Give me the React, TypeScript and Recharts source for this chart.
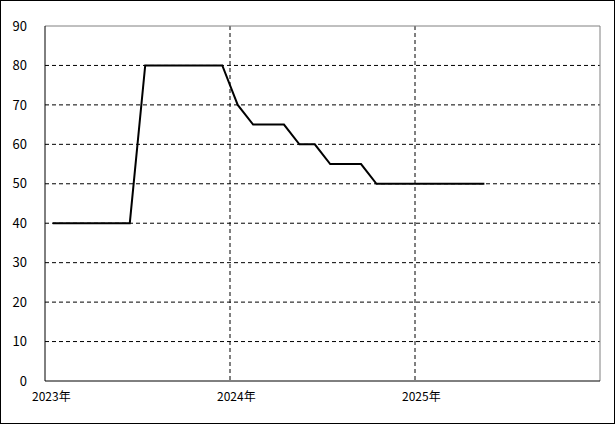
import { LineChart, Line, XAxis, YAxis, CartesianGrid, ReferenceLine } from 'recharts'

// monthly points, Jan 2023 .. May 2025
const months = [
  '2023-01', '2023-02', '2023-03', '2023-04', '2023-05', '2023-06',
  '2023-07', '2023-08', '2023-09', '2023-10', '2023-11', '2023-12',
  '2024-01', '2024-02', '2024-03', '2024-04', '2024-05', '2024-06',
  '2024-07', '2024-08', '2024-09', '2024-10', '2024-11', '2024-12',
  '2025-01', '2025-02', '2025-03', '2025-04', '2025-05',
]
const values = [
  40, 40, 40, 40, 40, 40,
  80, 80, 80, 80, 80, 80,
  70, 65, 65, 65, 60, 60,
  55, 55, 55, 50, 50, 50,
  50, 50, 50, 50, 50,
]
const yearTicks = [0, 12, 24, 36]
const yearLabels = ['2023年', '2024年', '2025年', '']
const yTicks = [0, 10, 20, 30, 40, 50, 60, 70, 80, 90]

const font = '"MS UI Gothic", "Noto Sans CJK JP", "DejaVu Sans", sans-serif'

// x = months since Jan 2023, placed mid-month
const data = months.map((m, i) => {
  const [y, mo] = m.split('-').map(Number)
  return { x: (y - 2023) * 12 + (mo - 1) + 0.5, v: values[i] }
})

function YearTick({ x, y, payload }: any) {
  const idx = yearTicks.indexOf(payload.value)
  return (
    <text x={x - 13} y={y + 12} fontSize={12} fontFamily={font} fill="#000">
      {yearLabels[idx]}
    </text>
  )
}

export default function App() {
  return (
    <div
      style={{
        position: 'fixed',
        left: 0,
        top: 0,
        width: 615,
        height: 424,
        border: '1px solid #000',
        boxSizing: 'border-box',
        background: '#fff',
      }}
    >
      <LineChart
        width={613}
        height={422}
        data={data}
        margin={{ top: 25, right: 14, left: 0, bottom: 0 }}
      >
        <CartesianGrid
          stroke="#000"
          strokeDasharray="4 3"
          horizontalValues={[10, 20, 30, 40, 50, 60, 70, 80]}
          verticalValues={[12, 24]}
        />
        <ReferenceLine y={90} stroke="#808080" />
        <ReferenceLine x={36} stroke="#808080" />
        <XAxis
          type="number"
          dataKey="x"
          domain={[0, 36]}
          ticks={yearTicks}
          interval={0}
          height={42}
          tickLine={false}
          axisLine={{ stroke: '#000' }}
          tick={<YearTick />}
        />
        <YAxis
          domain={[0, 90]}
          ticks={yTicks}
          interval={0}
          width={44}
          tickLine={false}
          axisLine={{ stroke: '#000' }}
          tickMargin={12}
          tick={{ fill: '#000', fontSize: 13, fontFamily: font }}
        />
        <Line
          type="linear"
          dataKey="v"
          stroke="#000"
          strokeWidth={2}
          dot={false}
          isAnimationActive={false}
        />
      </LineChart>
    </div>
  )
}
